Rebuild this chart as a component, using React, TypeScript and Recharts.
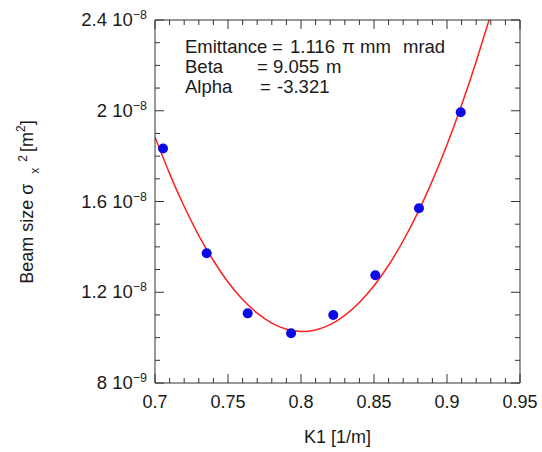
import React from 'react'
import { ComposedChart, Line, Scatter, XAxis, YAxis, Customized } from 'recharts'

// measured beam size squared vs quadrupole strength
const measuredK1 = [0.7055, 0.7354, 0.7635, 0.7932, 0.8221, 0.8509, 0.8808, 0.9094]
const measuredSigma2 = [1.834e-8, 1.372e-8, 1.107e-8, 1.019e-8, 1.1e-8, 1.275e-8, 1.57e-8, 1.993e-8]

// fitted curve
const fitK1 = [
  0.7, 0.71, 0.72, 0.73, 0.74, 0.75, 0.76, 0.77, 0.78, 0.79, 0.8, 0.81,
  0.82, 0.83, 0.84, 0.85, 0.86, 0.87, 0.88, 0.89, 0.9, 0.91, 0.92, 0.93,
]
const fitSigma2 = [
  1.884e-8, 1.723e-8, 1.578e-8, 1.45e-8, 1.34e-8, 1.245e-8, 1.168e-8, 1.108e-8,
  1.064e-8, 1.037e-8, 1.027e-8, 1.034e-8, 1.057e-8, 1.098e-8, 1.155e-8, 1.229e-8,
  1.319e-8, 1.427e-8, 1.551e-8, 1.692e-8, 1.85e-8, 2.025e-8, 2.217e-8, 2.425e-8,
]

const xMajorTicks = [0.7, 0.75, 0.8, 0.85, 0.9, 0.95]
const xTickLabels = ['0.7', '0.75', '0.8', '0.85', '0.9', '0.95']
const yMajorTicks = [8e-9, 1.2e-8, 1.6e-8, 2e-8, 2.4e-8]
const yMantissa = ['8', '1.2', '1.6', '2', '2.4']
const yExponent = ['\u22129', '\u22128', '\u22128', '\u22128', '\u22128']

// minor ticks every 0.01 on x and 1e-9 on y
const xAllTicks = Array.from({ length: 26 }, (_, i) => Math.round((0.7 + i * 0.01) * 1000) / 1000)
const yAllTicks = Array.from({ length: 17 }, (_, i) => (8 + i) * 1e-9)

const measured = measuredK1.map((x, i) => ({ x, y: measuredSigma2[i] }))
const fit = fitK1.map((x, i) => ({ x, y: fitSigma2[i] }))

const FONT = '"Liberation Sans", Arial, Helvetica, sans-serif'
const AXIS = '#333'
const TXT = '#1a1a1a'

const findX = (v: number) => xMajorTicks.findIndex((m) => Math.abs(m - v) < 1e-6)
const findY = (v: number) => yMajorTicks.findIndex((m) => Math.abs(m - v) < 1e-12)

function BottomTick({ x, y, payload }: any) {
  const idx = findX(payload.value)
  return (
    <g>
      <line x1={x} x2={x} y1={y} y2={y - (idx >= 0 ? 9 : 5)} stroke={AXIS} />
      {idx >= 0 && (
        <text x={x} y={y + 25} textAnchor="middle" fontSize={18} fill={TXT} fontFamily={FONT}>
          {xTickLabels[idx]}
        </text>
      )}
    </g>
  )
}

function TopTick({ x, y, payload }: any) {
  const idx = findX(payload.value)
  return <line x1={x} x2={x} y1={y} y2={y + (idx >= 0 ? 9 : 5)} stroke={AXIS} />
}

function LeftTick({ x, y, payload }: any) {
  const idx = findY(payload.value)
  return (
    <g>
      <line x1={x} x2={x + (idx >= 0 ? 9 : 5)} y1={y} y2={y} stroke={AXIS} />
      {idx >= 0 && (
        <text x={x - 8} y={y + 6} textAnchor="end" fontSize={18.5} fill={TXT} fontFamily={FONT}>
          <tspan>{yMantissa[idx]} 10</tspan>
          <tspan dy={-7} fontSize={12.5}>{yExponent[idx]}</tspan>
        </text>
      )}
    </g>
  )
}

function RightTick({ x, y, payload }: any) {
  const idx = findY(payload.value)
  return <line x1={x} x2={x - (idx >= 0 ? 9 : 5)} y1={y} y2={y} stroke={AXIS} />
}

function Annotations() {
  return (
    <g fontFamily={FONT} fontSize={18.5} fill={TXT}>
      <text x={185} y={53}>Emittance</text>
      <text x={272} y={53}>=</text>
      <text x={290} y={53}>1.116</text>
      <text x={342} y={53}>π</text>
      <text x={360} y={53}>mm</text>
      <text x={403} y={53}>mrad</text>
      <text x={185} y={73}>Beta</text>
      <text x={257} y={73}>=</text>
      <text x={273} y={73}>9.055</text>
      <text x={326} y={73}>m</text>
      <text x={185} y={93}>Alpha</text>
      <text x={260} y={93}>=</text>
      <text x={277} y={93}>-3.321</text>
      <text x={337.5} y={443} textAnchor="middle" fontSize={18}>K1 [1/m]</text>
      <text x={33} y={202} textAnchor="middle" fontSize={18} transform="rotate(-90, 33, 202)">
        <tspan>Beam size σ</tspan>
        <tspan dx={10} dy={6} fontSize={12}>x</tspan>
        <tspan dx={6} dy={-12} fontSize={12}>2</tspan>
        <tspan dx={3} dy={6} fontSize={18}>[m</tspan>
        <tspan dy={-8} fontSize={12}>2</tspan>
        <tspan dy={8} fontSize={18}>]</tspan>
      </text>
    </g>
  )
}

export default function App() {
  return (
    <div style={{ position: 'absolute', left: 0, top: 0, width: 542, height: 452, background: '#fff' }}>
      <ComposedChart width={542} height={452} data={fit} margin={{ top: 19, right: 21, left: 0, bottom: 0 }}>
        <XAxis
          dataKey="x"
          type="number"
          domain={[0.7, 0.95]}
          ticks={xAllTicks}
          interval={0}
          height={69}
          tickSize={0}
          tickMargin={0}
          tickLine={false}
          tick={<BottomTick />}
          axisLine={{ stroke: AXIS }}
          allowDataOverflow
        />
        <XAxis
          xAxisId="top"
          orientation="top"
          dataKey="x"
          type="number"
          domain={[0.7, 0.95]}
          ticks={xAllTicks}
          interval={0}
          height={1}
          tickSize={0}
          tickMargin={0}
          tickLine={false}
          tick={<TopTick />}
          axisLine={{ stroke: AXIS }}
          allowDataOverflow
        />
        <YAxis
          dataKey="y"
          type="number"
          domain={[8e-9, 2.4e-8]}
          ticks={yAllTicks}
          interval={0}
          width={155}
          tickSize={0}
          tickMargin={0}
          tickLine={false}
          tick={<LeftTick />}
          axisLine={{ stroke: AXIS }}
          allowDataOverflow
        />
        <YAxis
          yAxisId="right"
          orientation="right"
          dataKey="y"
          type="number"
          domain={[8e-9, 2.4e-8]}
          ticks={yAllTicks}
          interval={0}
          width={1}
          tickSize={0}
          tickMargin={0}
          tickLine={false}
          tick={<RightTick />}
          axisLine={{ stroke: AXIS }}
          allowDataOverflow
        />
        {/* invisible series so the mirrored frame axes get drawn */}
        <Line
          xAxisId="top"
          yAxisId="right"
          dataKey="y"
          stroke="none"
          dot={false}
          activeDot={false}
          legendType="none"
          isAnimationActive={false}
        />
        <Line
          dataKey="y"
          type="natural"
          stroke="#ff2020"
          strokeWidth={1.5}
          dot={false}
          activeDot={false}
          isAnimationActive={false}
        />
        <Scatter
          data={measured}
          dataKey="y"
          fill="#0a0ae6"
          shape={(p: any) => <circle cx={p.cx} cy={p.cy} r={5} fill="#0a0ae6" />}
          isAnimationActive={false}
        />
        <Customized component={<Annotations />} />
      </ComposedChart>
    </div>
  )
}
